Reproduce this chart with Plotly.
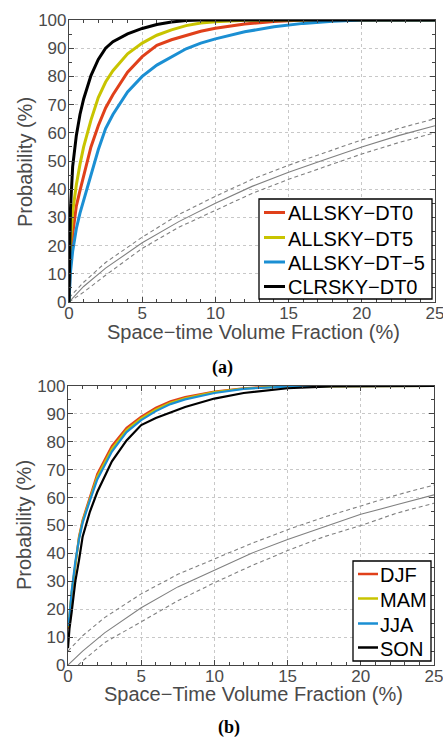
import plotly.graph_objects as go

# ---------------- data: panel (a) ----------------
xa_black = [0, 0.05, 0.1, 0.25, 0.5, 0.75, 1, 1.5, 2, 2.5, 3, 4, 5, 6, 7, 8, 9, 25]
y_clrsky_dt0 = [0, 20, 33, 48, 59, 66.5, 72, 80.3, 86, 90, 92.3, 95.1, 97, 98.4, 99.3, 99.8, 100, 100]

xa_yellow = [0, 0.1, 0.25, 0.5, 0.75, 1, 1.5, 2, 2.5, 3, 4, 5, 6, 7, 8, 9, 10, 12, 14, 25]
y_allsky_dt5 = [0, 21, 32, 41.5, 48.8, 55, 64.5, 72.5, 78, 82, 88, 91.8, 94.6, 96.5, 98, 98.9, 99.4, 99.9, 100, 100]

xa_red = [0, 0.1, 0.25, 0.5, 0.75, 1, 1.5, 2, 2.5, 3, 4, 5, 6, 7, 8, 9, 10, 12, 14, 16, 25]
y_allsky_dt0 = [0, 15, 24, 34, 39.5, 45, 55, 62.5, 68.8, 73.5, 81.5, 87, 91, 93, 94.6, 96, 97.1, 98.6, 99.5, 100, 100]

xa_blue = [0, 0.1, 0.25, 0.5, 0.75, 1, 1.5, 2, 2.5, 3, 4, 5, 6, 7, 8, 9, 10, 12, 14, 16, 18, 20, 25]
y_allsky_dtm5 = [0, 10.5, 18, 26, 31.5, 36, 45.5, 54, 61.5, 66.5, 74.5, 80, 84, 87, 89.8, 91.8, 93.3, 95.8, 97.6, 98.8, 99.6, 100, 100]

x_ref = [0, 1, 2.5, 5, 7.5, 10, 12.5, 15, 17.5, 20, 22.5, 25]
ref_a_mid = [0, 5.5, 12, 21, 28.5, 35, 41, 46, 50.5, 55, 59, 62.5]
ref_a_up = [1.5, 7, 14, 23, 31, 37.5, 43.5, 48.5, 53, 57.5, 61.5, 65]
ref_a_lo = [0, 3.5, 9.5, 19, 26.5, 32.5, 38.5, 43.5, 48, 52.5, 56.5, 60]

# ---------------- data: panel (b) ----------------
xb = [0, 0.1, 0.25, 0.5, 0.75, 1, 1.5, 2, 3, 4, 5, 6, 7, 8, 10, 12, 15, 18, 25]
y_djf = [13, 17, 25.5, 36.5, 46, 52, 60, 68.5, 78.5, 85, 89, 92.2, 94.5, 96, 98, 99.2, 100, 100, 100]
y_mam = [13.5, 17.2, 26, 36.8, 45.5, 51.5, 59.5, 67.5, 77.5, 84.2, 88.4, 91.6, 94, 95.6, 97.8, 99.1, 99.9, 100, 100]
y_jja = [14, 17.5, 26.5, 37, 45, 51, 59, 66.5, 76.5, 83.5, 87.8, 91, 93.5, 95.2, 97.5, 99, 99.8, 100, 100]
y_son = [6, 13, 19, 30, 37.5, 46, 55, 62, 73, 80.5, 86, 88.5, 90.5, 92.5, 95.5, 97.5, 99.2, 99.9, 100]

ref_b_mid = [0, 5, 11.5, 20.5, 28, 34, 40, 45, 49.5, 54, 57.5, 61]
ref_b_up = [5, 10.5, 17, 25.5, 32.5, 38, 43.5, 48.5, 53, 57, 61, 64.5]
ref_b_lo = [-3.5, 1.5, 8, 15.5, 23, 29.5, 35.5, 41, 46, 50, 54.5, 58]

x_ticks = [0, 5, 10, 15, 20, 25]
y_ticks = [0, 10, 20, 30, 40, 50, 60, 70, 80, 90, 100]

RED = "#e0401a"
YEL = "#c8c400"
BLU = "#1b8fd3"
BLK = "#000000"
GRY = "#808080"

W, H = 443, 738
fig = go.Figure()

def add_ref(xax, yax, mid, up, lo):
    fig.add_trace(go.Scatter(x=x_ref, y=mid, mode="lines", line=dict(color=GRY, width=1.1),
                             showlegend=False, xaxis=xax, yaxis=yax, hoverinfo="skip"))
    for arr in (up, lo):
        fig.add_trace(go.Scatter(x=x_ref, y=arr, mode="lines",
                                 line=dict(color=GRY, width=1.1, dash="4px,3px"),
                                 showlegend=False, xaxis=xax, yaxis=yax, hoverinfo="skip"))

add_ref("x", "y", ref_a_mid, ref_a_up, ref_a_lo)
add_ref("x2", "y2", ref_b_mid, ref_b_up, ref_b_lo)

series_a = [(xa_red, y_allsky_dt0, "ALLSKY\u2212DT0", RED),
            (xa_yellow, y_allsky_dt5, "ALLSKY\u2212DT5", YEL),
            (xa_blue, y_allsky_dtm5, "ALLSKY\u2212DT\u22125", BLU),
            (xa_black, y_clrsky_dt0, "CLRSKY\u2212DT0", BLK)]
series_b = [(xb, y_djf, "DJF", RED), (xb, y_mam, "MAM", YEL), (xb, y_jja, "JJA", BLU), (xb, y_son, "SON", BLK)]

for xs, ys, name, col in series_a:
    fig.add_trace(go.Scatter(x=xs, y=ys, mode="lines", name=name, line=dict(color=col, width=3),
                             xaxis="x", yaxis="y", showlegend=False))
for xs, ys, name, col in series_b:
    fig.add_trace(go.Scatter(x=xs, y=ys, mode="lines", name=name, line=dict(color=col, width=2.2),
                             xaxis="x2", yaxis="y2", showlegend=False))

def dom_y(top, bot):
    return [1 - bot / H, 1 - top / H]

def dom_x(l, r):
    return [l / W, r / W]

FONT = "Liberation Sans, Arial, sans-serif"
tickfont = dict(family=FONT, size=17, color="#4a4a4a")
titlefont = dict(family=FONT, size=20, color="#4a4a4a")
legfont = dict(family=FONT, size=20, color="#000")
serif = dict(family="Liberation Serif, Times New Roman, serif", size=18, color="#000")

def xaxis_cfg(dom, anchor):
    return dict(domain=dom, anchor=anchor, range=[0, 25], tickvals=x_ticks, ticks="inside", ticklen=5,
                tickcolor="#444", linecolor="#444", linewidth=1.2, mirror="ticks", showline=True,
                showgrid=True, gridcolor="#c8c8c8", griddash="dot", gridwidth=1, zeroline=False,
                automargin=False, ticklabeloverflow="allow", ticklabelstandoff=-5, tickfont=tickfont,
                minor=dict(dtick=1, tick0=0, ticks="inside", ticklen=3, tickcolor="#444", showgrid=False))

def yaxis_cfg(dom, anchor):
    return dict(domain=dom, anchor=anchor, range=[0, 100], tickvals=y_ticks, ticks="inside", ticklen=5,
                tickcolor="#444", linecolor="#444", linewidth=1.2, mirror="ticks", showline=True,
                showgrid=True, gridcolor="#c8c8c8", griddash="dot", gridwidth=1, zeroline=False,
                automargin=False, ticklabeloverflow="allow", ticklabelstandoff=-2, tickfont=tickfont,
                minor=dict(dtick=5, tick0=0, ticks="inside", ticklen=3, tickcolor="#444", showgrid=False))

def ann(text, xpx, ypx, font, angle=0, xanchor="center"):
    return dict(text=text, x=xpx / W, y=1 - ypx / H, xref="paper", yref="paper", showarrow=False,
                xanchor=xanchor, yanchor="middle", textangle=angle, font=font)

annotations = [
    ann("Space\u2212time Volume Fraction (%)", 253, 332, titlefont),
    ann("Probability (%)", 25, 162, titlefont, -90),
    ann("Space\u2212Time Volume Fraction (%)", 253, 694, titlefont),
    ann("Probability (%)", 24, 525, titlefont, -90),
    ann("<b>(a)</b>", 222, 367, serif),
    ann("<b>(b)</b>", 229, 727, serif),
]
shapes = []

def px_shape(kind, x0, y0, x1, y1, **kw):
    return dict(type=kind, xref="paper", yref="paper", x0=x0 / W, x1=x1 / W,
                y0=1 - y0 / H, y1=1 - y1 / H, **kw)

# legend boxes (drawn in page pixels)
def add_legend(series, box, line_x, text_x, rows, lw):
    shapes.append(px_shape("rect", box[0], box[1], box[2], box[3],
                           line=dict(color="#000", width=1.3), fillcolor="white", layer="above"))
    for (xs, ys, name, col), ry in zip(series, rows):
        shapes.append(px_shape("line", line_x[0], ry, line_x[1], ry, line=dict(color=col, width=lw), layer="above"))
        annotations.append(ann(name, text_x, ry + 1, legfont, xanchor="left"))

add_legend(series_a, (259, 199, 432, 299), (264, 285), 286, [212.5, 237.5, 262, 286.5], 3)
add_legend(series_b, (353, 561, 431, 661), (358, 378), 378, [574, 598.5, 623.5, 647.5], 2.5)

fig.update_layout(
    width=W, height=H, margin=dict(l=0, r=0, t=0, b=0, autoexpand=False),
    paper_bgcolor="white", plot_bgcolor="white", showlegend=False,
    xaxis=xaxis_cfg(dom_x(69, 435), "y"),
    yaxis=yaxis_cfg(dom_y(20, 302), "x"),
    xaxis2=xaxis_cfg(dom_x(68, 434), "y2"),
    yaxis2=yaxis_cfg(dom_y(386, 665), "x2"),
    annotations=annotations,
    shapes=shapes,
)

fig.write_html("out.html", config={"displayModeBar": False},
               post_script="document.body.style.margin='0';document.body.style.overflow='hidden';")
